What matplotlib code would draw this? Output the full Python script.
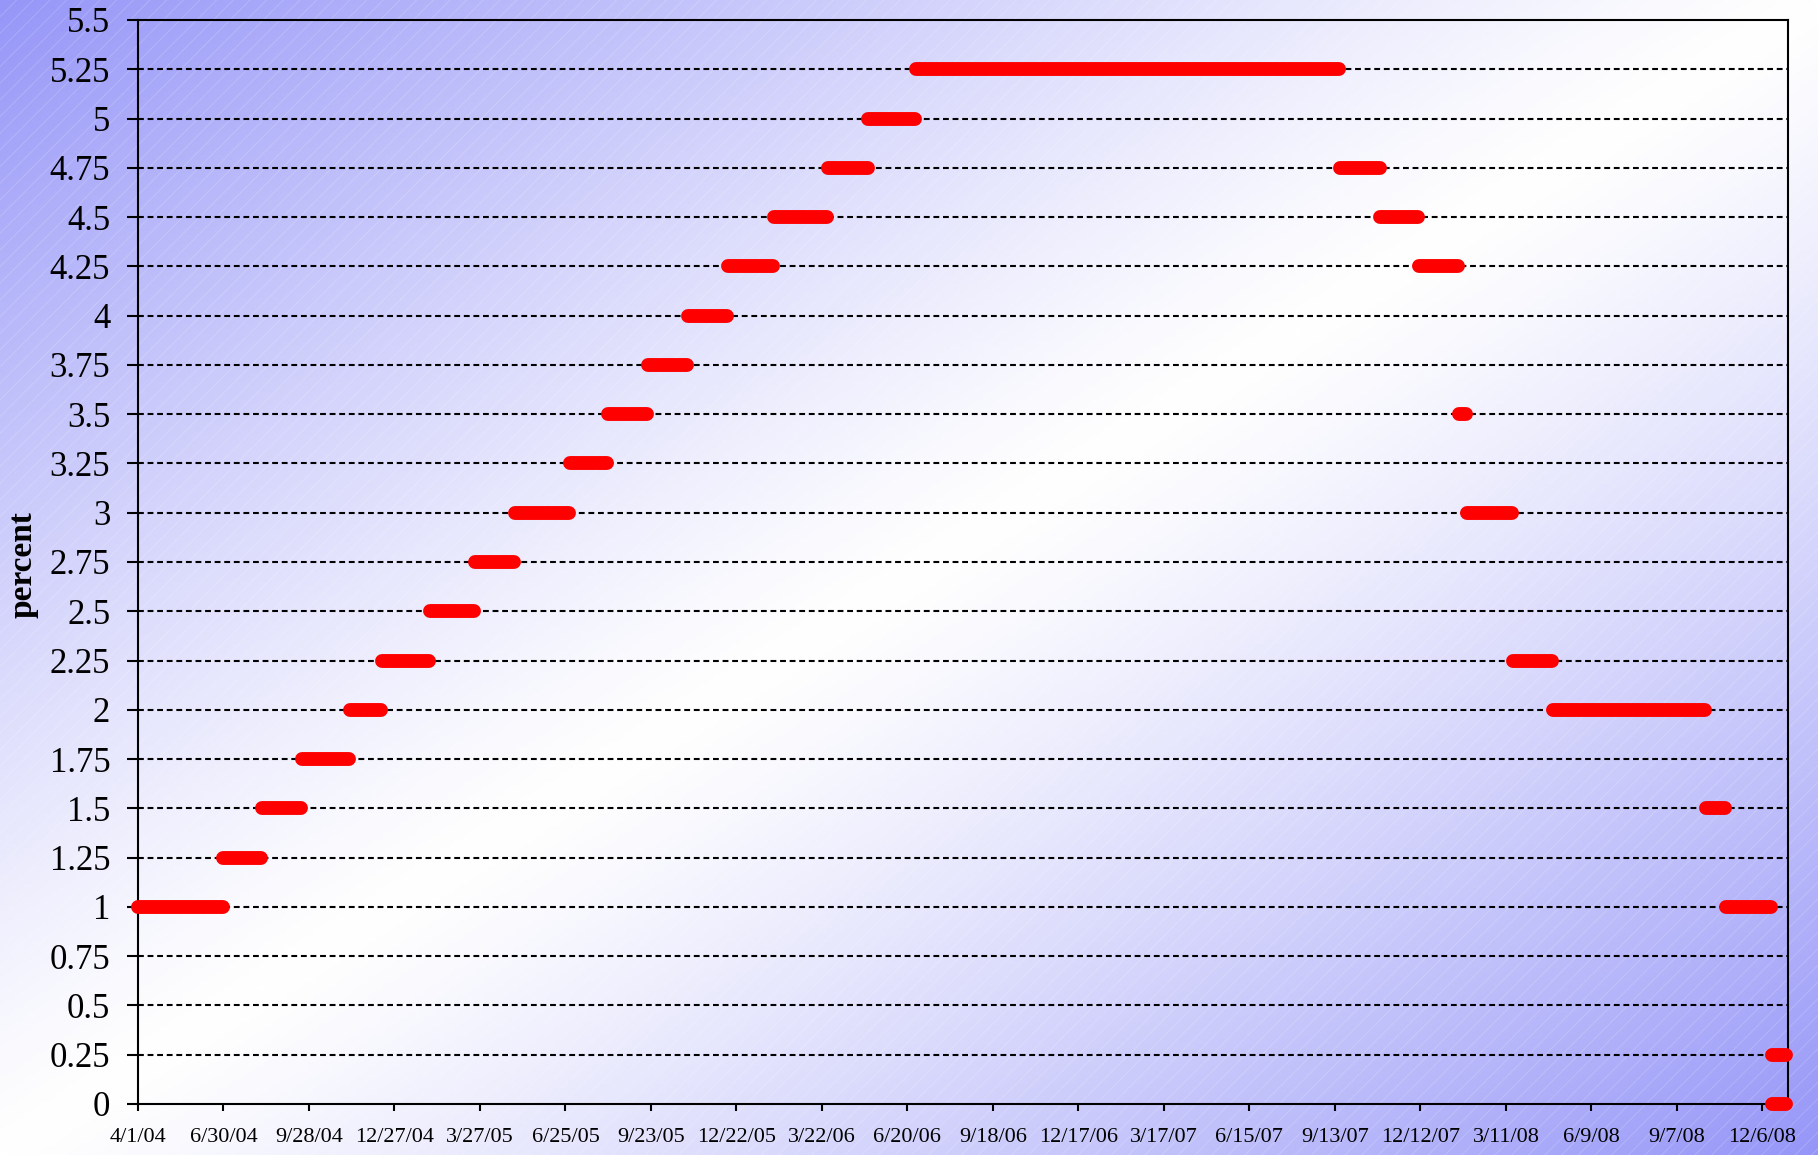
import numpy as np
import pandas as pd
import matplotlib
matplotlib.use('Agg')
import matplotlib.pyplot as plt
from matplotlib.patches import Rectangle

# federal funds target rate: each step runs from start to end date
start_dates = ['2004-04-01', '2004-06-30', '2004-08-10', '2004-09-21', '2004-11-10',
               '2004-12-14', '2005-02-02', '2005-03-22', '2005-05-03', '2005-06-30',
               '2005-08-09', '2005-09-20', '2005-11-01', '2005-12-13', '2006-01-31',
               '2006-03-28', '2006-05-10', '2006-06-29', '2007-09-18', '2007-10-31',
               '2007-12-11', '2008-01-22', '2008-01-30', '2008-03-18', '2008-04-30',
               '2008-10-08', '2008-10-29', '2008-12-16', '2008-12-16']
end_dates = ['2004-06-29', '2004-08-09', '2004-09-20', '2004-11-09', '2004-12-13',
             '2005-02-01', '2005-03-21', '2005-05-02', '2005-06-29', '2005-08-08',
             '2005-09-19', '2005-10-31', '2005-12-12', '2006-01-30', '2006-03-27',
             '2006-05-09', '2006-06-28', '2007-09-17', '2007-10-30', '2007-12-10',
             '2008-01-21', '2008-01-29', '2008-03-17', '2008-04-29', '2008-10-07',
             '2008-10-28', '2008-12-15', '2008-12-31', '2008-12-31']
rates = [1.00, 1.25, 1.50, 1.75, 2.00, 2.25, 2.50, 2.75, 3.00, 3.25, 3.50, 3.75,
         4.00, 4.25, 4.50, 4.75, 5.00, 5.25, 4.75, 4.50, 4.25, 3.50, 3.00, 2.25,
         2.00, 1.50, 1.00, 0.25, 0.00]

x_ticklabels = ['4/1/04', '6/30/04', '9/28/04', '12/27/04', '3/27/05', '6/25/05',
                '9/23/05', '12/22/05', '3/22/06', '6/20/06', '9/18/06', '12/17/06',
                '3/17/07', '6/15/07', '9/13/07', '12/12/07', '3/11/08', '6/9/08',
                '9/7/08', '12/6/08']
y_ticks = np.arange(0, 5.51, 0.25)

W, H = 1818, 1155
plt.rcParams['font.family'] = ['Liberation Serif', 'DejaVu Serif']
fig = plt.figure(figsize=(W / 100, H / 100), dpi=100)

# background: blue in top-left / bottom-right corners, white along the other diagonal
bg = fig.add_axes([0, 0, 1, 1], zorder=-10)
gx, gy = np.meshgrid(np.linspace(0, 1, 400), np.linspace(0, 1, 260))
t = np.clip(np.abs(gx + gy - 1), 0, 1) ** 1.2
lo = np.array([1.0, 1.0, 1.0])
hi = np.array([150, 150, 248]) / 255
img = lo + (hi - lo) * t[..., None]
bg.imshow(img, aspect='auto', extent=[0, 1, 0, 1], origin='upper')
bg.axis('off')
plt.rcParams['hatch.linewidth'] = 0.6
fig.patches.append(Rectangle((0, 0), 1, 1, transform=fig.transFigure, facecolor='none',
                             edgecolor=(1, 1, 1, 0.2), hatch='//', linewidth=0, zorder=-5))

ax = fig.add_axes([138 / W, 1 - 1104 / H, (1788 - 138) / W, (1104 - 20) / H])
ax.set_facecolor('none')

for s, e, r in zip(start_dates, end_dates, rates):
    ax.plot([pd.Timestamp(s), pd.Timestamp(e)], [r, r], color='#ff0000', lw=10,
            solid_capstyle='round', clip_on=False, zorder=5)

for y in y_ticks[1:-1]:
    ax.axhline(y, color='black', lw=1.5, linestyle=(0, (2.8, 1.8)), zorder=2)

ax.set_xlim(pd.Timestamp('2004-04-01'), pd.Timestamp('2009-01-02'))
ax.set_ylim(0, 5.5)
ax.set_yticks(y_ticks)
ax.set_yticklabels(['{:g}'.format(v) for v in y_ticks], fontsize=25)
ax.set_xticks([pd.to_datetime(l, format='%m/%d/%y') for l in x_ticklabels])
ax.set_xticklabels(x_ticklabels, fontsize=16)
ax.tick_params(axis='y', length=8, width=1.5, pad=12)
ax.tick_params(axis='x', length=5, width=1.5, pad=12)
for sp in ax.spines.values():
    sp.set_linewidth(1.5)

fig.text(23 / W, 1 - 565 / H, 'percent', rotation=90, fontsize=24, fontweight='bold',
         ha='center', va='center')

fig.savefig('out.png', dpi=100)
